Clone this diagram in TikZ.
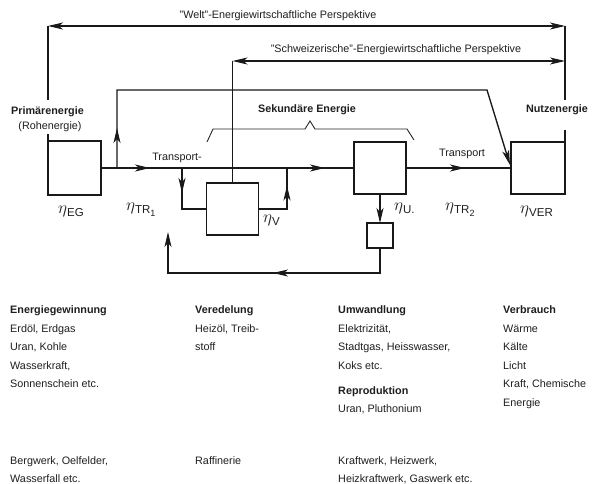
\documentclass[tikz,border=0pt]{standalone}
\usepackage{fontspec}
\setmainfont{Liberation Sans}
\usetikzlibrary{arrows.meta,decorations.markings}
\newcommand\etasym{{\fontsize{17}{17}\selectfont$\eta$}}
\tikzset{
  ln/.style={line width=1.35pt, draw=black!90},
  box/.style={draw=black!90, line width=1.5pt, inner sep=0pt, outer sep=0pt},
  midarr/.style={postaction={decorate},decoration={markings,mark=at position #1 with {\arrow{>}}}},
  midtwo/.style 2 args={postaction={decorate},decoration={markings,mark=at position #1 with {\arrow{>}},mark=at position #2 with {\arrow{>}}}},
  txt/.style={font=\fontsize{10.8}{12}\selectfont, text=black!88, inner sep=0pt},
  btxt/.style={font=\fontsize{10.8}{12}\selectfont\bfseries, text=black!88, inner sep=0pt},
  lw/.style={txt, anchor=base west},
  bw/.style={btxt, anchor=base west},
  etal/.style={font=\fontsize{11.5}{12}\selectfont, text=black!88, inner sep=0pt, anchor=west}
}
\begin{document}
\begin{tikzpicture}[x=1pt,y=-1pt,>={Stealth[length=15pt,width=7pt,inset=4pt]}]
\useasboundingbox (0,0) rectangle (597,484);
\fill[white] (0,0) rectangle (597,484);

% boxes
\node[box,minimum width=53pt,minimum height=54pt] (EG) at (74.5,168) {};
\node[box,minimum width=52pt,minimum height=52pt] (V) at (232.5,209) {};
\node[box,minimum width=52pt,minimum height=52pt] (U) at (380,168) {};
\node[box,minimum width=26pt,minimum height=25pt] (S) at (380,235.5) {};
\node[box,minimum width=54pt,minimum height=52pt] (VER) at (538,168) {};

% coordinates
\coordinate (wl) at (48,26);
\coordinate (wr) at (565,26);
\coordinate (sl) at (232.5,61);
\coordinate (sr) at (565,61);
\coordinate (pl) at (48,100);
\coordinate (pr) at (565,100);
\coordinate (bj) at (117,168);
\coordinate (bt) at (117,90);
\coordinate (btr) at (487,90);
\coordinate (bend) at (510,165);
\coordinate (dj) at (182,168);
\coordinate (dd) at (182,209);
\coordinate (uj) at (287,209);
\coordinate (uu) at (287,168);
\coordinate (fb1) at (380,273);
\coordinate (fb2) at (168,273);
\coordinate (fb3) at (168,232);

% perspective arrows
\draw[ln,<->] (wl) -- (wr);
\draw[ln] (wl) -- (pl);
\draw[ln] (EG.north west) -- ++(0,-7);
\draw[ln] (wr) -- (pr);
\draw[ln] (VER.north east) -- ++(0,-12);
\draw[ln,<->] (sl) -- (sr);
\draw[ln] (sl) -- (V.north);

% flows
\draw[ln,midtwo={49pt}{224pt}] (EG.east) -- (U.west);
\draw[ln,midarr=59pt] (U.east) -- (VER.west);
\draw[ln,midarr=40pt,->] (bj) -- (bt) -- (btr) -- (bend);
\draw[ln,midarr=25pt] (dj) -- (dd) -- (V.west);
\draw[ln,midarr=52pt] (V.east) -- (uj) -- (uu);
\draw[ln,->] (U.south) -- (S.north);
\draw[ln,midarr=132pt,->] (S.south) -- (fb1) -- (fb2) -- (fb3);

% brace
\draw[line width=0.9pt,draw=black!85] (207,142) -- (213,129) -- (305,129) -- (310,121) -- (315,129) -- (407,129) -- (414,140);

% labels
\node[txt] (welt) at (278,16) {''Welt''-Energiewirtschaftliche Perspektive};
\node[txt] (schw) at (396,50) {''Schweizerische''-Energiewirtschaftliche Perspektive};
\node[btxt] (prim) at (47.5,112) {Primärenergie};
\node[txt] (roh) at (50,127) {(Rohenergie)};
\node[btxt] (nutz) at (557,110) {Nutzenergie};
\node[btxt] (sek) at (307,110) {Sekundäre Energie};
\node[txt] (tr1) at (177,158) {Transport-};
\node[txt] (tr2) at (462,154) {Transport};

\node[etal] (eEG) at (58,211) {\etasym\raisebox{-3pt}{EG}};
\node[etal] (eTR1) at (126,210) {\etasym\raisebox{-3pt}{TR\raisebox{-2.5pt}{\fontsize{9}{9}\selectfont 1}}};
\node[etal] (eV) at (263,220) {\etasym\raisebox{-3pt}{V}};
\node[etal] (eU) at (394,208) {\etasym\raisebox{-3pt}{U.}};
\node[etal] (eTR2) at (445,210) {\etasym\raisebox{-3pt}{TR\raisebox{-2.5pt}{\fontsize{9}{9}\selectfont 2}}};
\node[etal] (eVER) at (520,211) {\etasym\raisebox{-3pt}{VER}};

% column 1
\node[bw] (c1a) at (10,313.5) {Energiegewinnung};
\node[lw] (c1b) at (10,332) {Erdöl, Erdgas};
\node[lw] (c1c) at (10,350.5) {Uran, Kohle};
\node[lw] (c1d) at (10,369) {Wasserkraft,};
\node[lw] (c1e) at (10,387.5) {Sonnenschein etc.};
\node[lw] (c1f) at (10,464.5) {Bergwerk, Oelfelder,};
\node[lw] (c1g) at (10,482) {Wasserfall etc.};
% column 2
\node[bw] (c2a) at (195,313.5) {Veredelung};
\node[lw] (c2b) at (195,332) {Heizöl, Treib-};
\node[lw] (c2c) at (195,350.5) {stoff};
\node[lw] (c2d) at (195,464.5) {Raffinerie};
% column 3
\node[bw] (c3a) at (338,313.5) {Umwandlung};
\node[lw] (c3b) at (338,332) {Elektrizität,};
\node[lw] (c3c) at (338,350.5) {Stadtgas, Heisswasser,};
\node[lw] (c3d) at (338,369) {Koks etc.};
\node[bw] (c3e) at (338,394) {Reproduktion};
\node[lw] (c3f) at (338,412.5) {Uran, Pluthonium};
\node[lw] (c3g) at (338,464.5) {Kraftwerk, Heizwerk,};
\node[lw] (c3h) at (338,482) {Heizkraftwerk, Gaswerk etc.};
% column 4
\node[bw] (c4a) at (503,313.5) {Verbrauch};
\node[lw] (c4b) at (503,332) {Wärme};
\node[lw] (c4c) at (503,350.5) {Kälte};
\node[lw] (c4d) at (503,369) {Licht};
\node[lw] (c4e) at (503,387.5) {Kraft, Chemische};
\node[lw] (c4f) at (503,406) {Energie};
\end{tikzpicture}
\end{document}
